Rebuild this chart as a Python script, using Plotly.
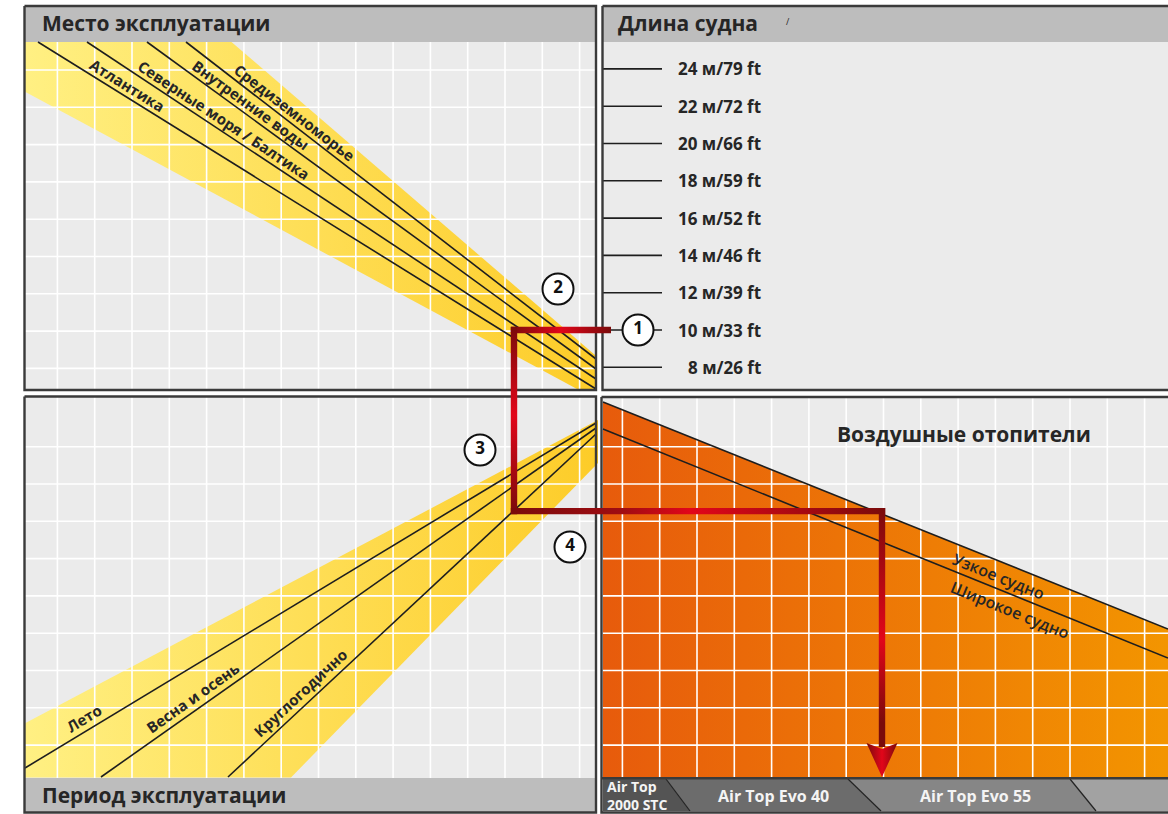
import numpy as np
import plotly.graph_objects as go

# ---------------- data ----------------
lengths_m = [8, 10, 12, 14, 16, 18, 20, 22, 24]
lengths_ft = [26, 33, 39, 46, 52, 59, 66, 72, 79]

regions = ["Атлантика", "Северные моря / Балтика", "Внутренние воды", "Средиземноморье"]
region_entry_x = [38, 87, 147, 186]      # where each line crosses the panel top
region_exit_y = [389, 379, 369, 359]     # where each line meets the panel right edge
region_label_x = [127, 224, 251, 294]

seasons = ["Лето", "Весна и осень", "Круглогодично"]
season_entry_x = [25, 101, 228]
season_entry_y = [768, 777, 777]
season_exit_y = [423, 428, 434]
season_label_x = [84, 192, 300]

vessel_types = ["Узкое судно", "Широкое судно"]
vessel_entry_y = [402, 429]
vessel_exit_y = [629, 658]
vessel_label_x = [998, 1010]

heater_models = ["Air Top<br>2000 STC", "Air Top Evo 40", "Air Top Evo 55"]
heater_edge_top = [603, 666, 848, 1070, 1180]
heater_edge_bottom = [603, 690, 881, 1096, 1180]

region_band_upper = [(231.5, 42), (597, 356.7)]
region_band_lower = [(25, 91.7), (577, 389)]
season_band_upper = [(25, 723.3), (597, 420)]
season_band_lower = [(291, 777.5), (597, 463)]

example_length_m = 10
example_region_x = 514
example_heater_x = 882

step_numbers = ["1", "2", "3", "4"]
step_x = [638, 558, 480, 570]
step_y = [330, 289, 450, 547]

# ---------------- style ----------------
BG = "#ebebeb"
HEAD = "#bdbdbd"
FRAME = "#3a3a3a"
INK = "#1e1e1e"
FONT = "Open Sans"
DARK_RED = "#7a0b0b"
BRIGHT_RED = "#e2061a"

CELL = 37.3
TL = dict(x0=25, x1=596, y0=42, y1=389)
BLp = dict(x0=25, x1=596, y0=397, y1=778)
BRp = dict(x0=602, x1=1168, y0=397, y1=778)


def y_of_length(L):
    return 330 - (L - 10) * CELL / 2


def line_y(x, x0, y0, x1, y1):
    return y0 + (x - x0) * (y1 - y0) / (x1 - x0)


fig = go.Figure()
shapes = []
annotations = []


def rect(x0, y0, x1, y1, color):
    shapes.append(dict(type="rect", xref="x", yref="y", x0=x0, y0=y0, x1=x1, y1=y1,
                       fillcolor=color, line=dict(width=0), layer="below"))


# panel backgrounds and header/footer bands
rect(25, 7, 596, 389, BG)
rect(25, 7, 596, 42, HEAD)
rect(603, 7, 1175, 389, BG)
rect(603, 7, 1175, 42, HEAD)
rect(25, 397, 596, 812, BG)
rect(25, 778, 596, 812, HEAD)
rect(602, 397, 1175, 812, BG)


def poly(xs, ys, **kw):
    fig.add_trace(go.Scatter(x=list(xs) + [xs[0]], y=list(ys) + [ys[0]], mode="lines",
                             fill="toself", line=dict(width=0), hoverinfo="skip", **kw))


# yellow fan: region
(ux0, uy0), (ux1, uy1) = region_band_upper
(lx0, ly0), (lx1, ly1) = region_band_lower
yellow = [[0, "#fff083"], [1, "#fdcc28"]]
poly([TL["x0"], ux0, ux1, TL["x1"] + 1, lx1, lx0], [TL["y0"], uy0, uy1, TL["y1"], ly1, ly0],
     fillgradient=dict(type="horizontal", colorscale=yellow, start=25, stop=597))
# yellow fan: season
(ux0, uy0), (ux1, uy1) = season_band_upper
(lx0, ly0), (lx1, ly1) = season_band_lower
poly([25, ux1 + 1, lx1 + 1, lx0, 25], [uy0, uy1, ly1, ly0, ly0],
     fillgradient=dict(type="horizontal", colorscale=yellow, start=25, stop=597))
# orange heater area (below narrow-vessel line)
poly([603, 1168, 1168, 603], [vessel_entry_y[0], vessel_exit_y[0], 778, 778],
     fillgradient=dict(type="horizontal", colorscale=[[0, "#e75b0c"], [1, "#f39500"]],
                       start=603, stop=1168))

# white grid
gx, gy = [], []
for p, xs0 in ((TL, 57.4), (BLp, 57.4), (BRp, 622.4)):
    ys_start = 70.0 if p is TL else 446.7
    for gxv in np.arange(xs0, p["x1"], CELL):
        gx += [gxv, gxv, None]
        gy += [p["y0"], p["y1"], None]
    for gyv in np.arange(ys_start, p["y1"], CELL):
        gx += [p["x0"], p["x1"] + (10 if p is BRp else 0), None]
        gy += [gyv, gyv, None]
fig.add_trace(go.Scatter(x=gx, y=gy, mode="lines", line=dict(color="white", width=1.6),
                         hoverinfo="skip"))

# black nomogram lines
bx, by = [], []
for ex, ey in zip(region_entry_x, region_exit_y):
    bx += [ex, 596, None]
    by += [42, ey, None]
for sx, sy, ey in zip(season_entry_x, season_entry_y, season_exit_y):
    bx += [sx, 596, None]
    by += [sy, ey, None]
for ly, ry in zip(vessel_entry_y, vessel_exit_y):
    bx += [603, 1168, None]
    by += [ly, ry, None]
for L in lengths_m:
    bx += [603, 662, None]
    by += [y_of_length(L), y_of_length(L), None]
fig.add_trace(go.Scatter(x=bx, y=by, mode="lines", line=dict(color=INK, width=1.6),
                         hoverinfo="skip"))

# heater model bar
seg_colors = ["#545454", "#6c6c6c", "#868686", "#a2a2a2"]
for i in range(4):
    poly([heater_edge_top[i], heater_edge_top[i + 1], heater_edge_bottom[i + 1], heater_edge_bottom[i]],
         [779, 779, 811, 811], fillcolor=seg_colors[i])
sx, sy = [], []
for i in range(1, 4):
    sx += [heater_edge_top[i], heater_edge_bottom[i], None]
    sy += [779, 811, None]
fig.add_trace(go.Scatter(x=sx, y=sy, mode="lines", line=dict(color="#222222", width=1.2),
                         hoverinfo="skip"))

# panel frames
fx, fy = [], []
for x0, y0, x1, y1 in ((24.5, 6, 596, 390), (24.5, 396.5, 596, 812.5),
                       (602.5, 6, 1190, 390), (601.5, 397, 1190, 812.5)):
    fx += [x0, x1, x1, x0, x0, None]
    fy += [y0, y0, y1, y1, y0, None]
fx += [602, 1190, None]
fy += [778.2, 778.2, None]
fig.add_trace(go.Scatter(x=fx, y=fy, mode="lines", line=dict(color=FRAME, width=2.4),
                         hoverinfo="skip"))

# red example path
y1 = y_of_length(example_length_m)
k = seasons.index("Круглогодично")
y2 = line_y(example_region_x, season_entry_x[k], season_entry_y[k], 597, season_exit_y[k])
h = 3.2
tip_y = 777
head_y = 743
red3 = [[0, DARK_RED], [0.5, BRIGHT_RED], [1, DARK_RED]]
legs = [
    (example_region_x - h, y1 - h, 611, y1 + h, "horizontal", red3),
    (example_region_x - h, y1 - h, example_region_x + h, y2 + h, "vertical",
     [[0, DARK_RED], [0.47, BRIGHT_RED], [1, DARK_RED]]),
    (example_region_x - h, y2 - h, example_heater_x + h, y2 + h, "horizontal",
     [[0, DARK_RED], [0.3, "#a00c12"], [0.48, BRIGHT_RED], [1, DARK_RED]]),
    (example_heater_x - h, y2 - h, example_heater_x + h, head_y + 4, "vertical",
     [[0, DARK_RED], [0.55, BRIGHT_RED], [0.9, DARK_RED], [1, DARK_RED]]),
]
for x0, yy0, x1, yy1, kind, cs in legs:
    start, stop = (x0, x1) if kind == "horizontal" else (yy0, yy1)
    poly([x0, x1, x1, x0], [yy0, yy0, yy1, yy1],
         fillgradient=dict(type=kind, colorscale=cs, start=start, stop=stop))
poly([example_heater_x - 15.5, example_heater_x, example_heater_x + 15.5, example_heater_x],
     [head_y, head_y + 6, head_y, tip_y],
     fillgradient=dict(type="horizontal", colorscale=red3,
                       start=example_heater_x - 15.5, stop=example_heater_x + 15.5))

# step markers
fig.add_trace(go.Scatter(x=step_x, y=step_y, mode="markers+text", text=step_numbers,
                         textposition="middle center",
                         textfont=dict(family=FONT, size=17, color="#111111", weight=700),
                         marker=dict(size=31, color="white", line=dict(color="#111111", width=2)),
                         hoverinfo="skip"))


def ann(x, y, text, size, angle=0, xanchor="center", color="#262626", weight=700, align="center"):
    annotations.append(dict(x=x, y=y, xref="x", yref="y", text=text, showarrow=False,
                            xanchor=xanchor, yanchor="middle", textangle=angle, align=align,
                            font=dict(family=FONT, size=size, color=color, weight=weight)))


# titles
ann(40, 23, "Место эксплуатации", 21, xanchor="left")
ann(616, 23, "Длина судна", 21, xanchor="left")
ann(788, 21, "/", 9, weight=400)
ann(40, 795, "Период эксплуатации", 21, xanchor="left")
ann(964, 434, "Воздушные отопители", 21)

# length tick labels
for L, ft in zip(lengths_m, lengths_ft):
    ann(763, y_of_length(L), f"{L} м/{ft} ft", 17, xanchor="right")

# rotated line labels
for name, ex, ey, lx in zip(regions, region_entry_x, region_exit_y, region_label_x):
    th = np.arctan2(ey - 42, 596 - ex)
    yy = line_y(lx, ex, 42, 596, ey) - 10.5 / np.cos(th)
    ann(lx, yy, name, 15, angle=np.degrees(th))
for name, sx0, sy0, ey, lx in zip(seasons, season_entry_x, season_entry_y, season_exit_y, season_label_x):
    th = np.arctan2(ey - sy0, 596 - sx0)
    yy = line_y(lx, sx0, sy0, 596, ey) - 12.5 / np.cos(th)
    ann(lx, yy, name, 15, angle=np.degrees(th))
for name, ly, ry, lx in zip(vessel_types, vessel_entry_y, vessel_exit_y, vessel_label_x):
    th = np.arctan2(ry - ly, 1168 - 603)
    yy = line_y(lx, 603, ly, 1168, ry) + 14.5 / np.cos(th)
    ann(lx, yy, name, 16, angle=np.degrees(th), weight=600)

# heater labels
ann(605, 795, heater_models[0], 14, xanchor="left", color="#f4f4f4", align="left")
for i, name in enumerate(heater_models[1:], start=1):
    cx = (heater_edge_top[i] + heater_edge_top[i + 1] + heater_edge_bottom[i] + heater_edge_bottom[i + 1]) / 4
    ann(cx + 2, 796, name, 16, color="#f4f4f4")

fig.update_layout(
    width=1168, height=814, margin=dict(l=0, r=0, t=0, b=0),
    paper_bgcolor="white", plot_bgcolor="white", showlegend=False,
    xaxis=dict(range=[0, 1168], visible=False, fixedrange=True),
    yaxis=dict(range=[814, 0], visible=False, fixedrange=True),
    shapes=shapes, annotations=annotations,
)
fig.write_html("out.html", config={"displayModeBar": False},
               post_script="document.body.style.margin='0';document.body.style.overflow='hidden';")
